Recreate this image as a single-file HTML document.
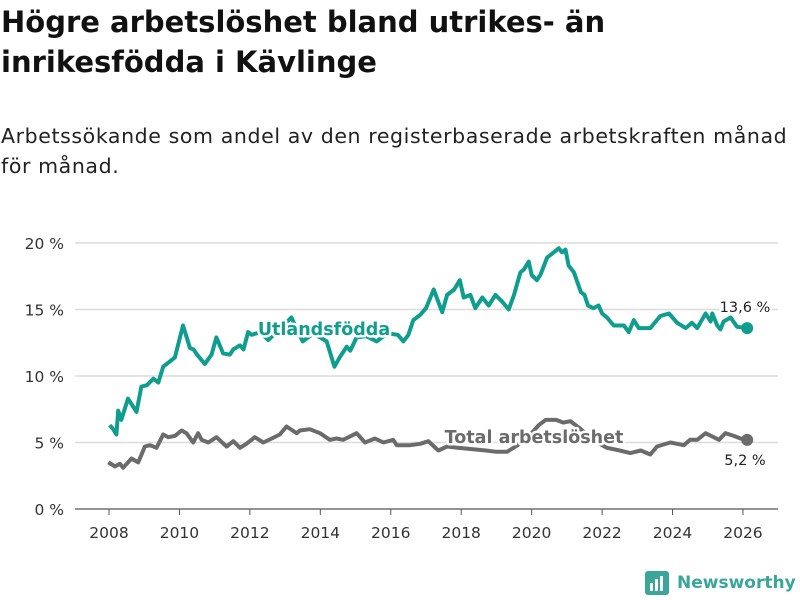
<!DOCTYPE html>
<html><head><meta charset="utf-8"><style>
body{margin:0;width:800px;height:600px;background:#fff;font-family:"DejaVu Sans",sans-serif;overflow:hidden;position:relative}
h1{position:absolute;left:1px;top:2px;margin:0;font-size:29px;line-height:40px;font-weight:bold;color:#111;width:795px}
.sub{position:absolute;left:1px;top:121px;margin:0;font-size:20.5px;letter-spacing:0.6px;line-height:30px;color:#222;width:795px}
svg{position:absolute;left:0;top:0}
</style></head><body>
<h1>Högre arbetslöshet bland utrikes- än<br>inrikesfödda i Kävlinge</h1>
<p class="sub">Arbetssökande som andel av den registerbaserade arbetskraften månad<br>för månad.</p>
<svg id="chart" width="800" height="600"></svg>
<script>
const yTicks=[0,5,10,15,20];
const yTickLabels=["0 %","5 %","10 %","15 %","20 %"];
const xTicks=[2008,2010,2012,2014,2016,2018,2020,2022,2024,2026];
const foreignTimes=[2008.02,2008.12,2008.21,2008.26,2008.35,2008.54,2008.78,2008.92,2009.07,2009.26,2009.4,2009.54,2009.73,2009.87,2010.1,2010.3,2010.4,2010.5,2010.72,2010.91,2011.05,2011.24,2011.43,2011.53,2011.72,2011.82,2011.95,2012.05,2012.3,2012.52,2012.8,2013.18,2013.5,2013.8,2014.18,2014.4,2014.55,2014.75,2014.85,2015.03,2015.3,2015.6,2015.9,2016.2,2016.36,2016.5,2016.64,2016.84,2017.0,2017.22,2017.46,2017.6,2017.8,2017.96,2018.07,2018.26,2018.4,2018.6,2018.78,2018.97,2019.16,2019.35,2019.5,2019.68,2019.78,2019.92,2020.0,2020.15,2020.25,2020.44,2020.63,2020.77,2020.86,2020.96,2021.05,2021.2,2021.4,2021.5,2021.6,2021.75,2021.9,2022.0,2022.14,2022.33,2022.62,2022.76,2022.9,2023.04,2023.37,2023.65,2023.9,2024.13,2024.37,2024.55,2024.7,2024.94,2025.08,2025.13,2025.27,2025.36,2025.45,2025.65,2025.83,2026.12];
const foreignValues=[6.3,6.0,5.6,7.4,6.7,8.3,7.3,9.2,9.3,9.8,9.5,10.7,11.1,11.4,13.8,12.1,12.0,11.6,10.9,11.6,12.9,11.7,11.6,12.0,12.3,12.0,13.3,13.1,13.3,12.7,13.4,14.4,12.6,13.2,12.6,10.7,11.4,12.2,11.9,12.9,13.0,12.6,13.2,13.1,12.6,13.1,14.2,14.6,15.1,16.5,14.8,16.1,16.5,17.2,15.9,16.1,15.1,15.9,15.3,16.1,15.6,15.0,16.1,17.8,18.0,18.6,17.6,17.2,17.6,18.9,19.3,19.6,19.3,19.5,18.3,17.8,16.3,16.1,15.3,15.1,15.3,14.7,14.4,13.8,13.8,13.3,14.2,13.6,13.6,14.5,14.7,14.0,13.6,14.0,13.6,14.7,14.1,14.7,13.8,13.5,14.1,14.4,13.7,13.6];
const totalTimes=[2007.98,2008.17,2008.31,2008.4,2008.64,2008.83,2009.02,2009.16,2009.35,2009.54,2009.68,2009.87,2010.06,2010.2,2010.39,2010.53,2010.63,2010.82,2011.05,2011.34,2011.53,2011.72,2011.9,2012.14,2012.38,2012.62,2012.85,2013.04,2013.33,2013.42,2013.7,2013.99,2014.27,2014.46,2014.65,2015.03,2015.27,2015.55,2015.79,2016.07,2016.17,2016.55,2016.84,2017.07,2017.35,2017.6,2017.9,2018.3,2018.7,2019.0,2019.3,2019.6,2019.9,2020.2,2020.4,2020.7,2020.9,2021.1,2021.4,2021.7,2022.0,2022.14,2022.5,2022.8,2023.1,2023.37,2023.56,2023.94,2024.32,2024.5,2024.7,2024.94,2025.17,2025.32,2025.5,2025.74,2025.93,2026.12];
const totalValues=[3.5,3.2,3.4,3.1,3.8,3.5,4.7,4.8,4.6,5.6,5.4,5.5,5.9,5.7,5.0,5.7,5.2,5.0,5.4,4.7,5.1,4.6,4.9,5.4,5.0,5.3,5.6,6.2,5.7,5.9,6.0,5.7,5.2,5.3,5.2,5.7,5.0,5.3,5.0,5.2,4.8,4.8,4.9,5.1,4.4,4.7,4.6,4.5,4.4,4.3,4.3,4.8,5.4,6.3,6.7,6.7,6.5,6.6,6.0,5.3,4.8,4.6,4.4,4.2,4.4,4.1,4.7,5.0,4.8,5.2,5.2,5.7,5.4,5.2,5.7,5.5,5.3,5.2];
const foreignLabel="13,6 %", totalLabel="5,2 %";

const NS="http://www.w3.org/2000/svg";
const svg=document.getElementById('chart');
const X=t=>109+(t-2008)*35.22;
const Y=v=>509-v*13.3;
function mk(tag,attrs,parent){const e=document.createElementNS(NS,tag);for(const k in attrs)e.setAttribute(k,attrs[k]);(parent||svg).appendChild(e);return e;}
yTicks.forEach((v,i)=>{
  const l=mk('line',{x1:75,x2:778,y1:Y(v),y2:Y(v),stroke:v===0?'#555':'#dcdcdc','stroke-width':v===0?1.2:1.5});
  
  
  const t=mk('text',{x:64,y:Y(v)+6,'text-anchor':'end','font-size':15.5,fill:'#333'});
  t.textContent=yTickLabels[i];
  
  
});
xTicks.forEach(yr=>{
  const l=mk('line',{x1:X(yr),x2:X(yr),y1:509,y2:515,stroke:'#555','stroke-width':1});
  
  
  const t=mk('text',{x:X(yr),y:538,'text-anchor':'middle','font-size':15.5,fill:'#333'});
  t.textContent=yr;
  
  
});
function series(times,vals,color,name){
  const d=times.map((t,i)=>(i?'L':'M')+X(t).toFixed(1)+' '+Y(vals[i]).toFixed(1)).join(' ');
  const p=mk('path',{d:d,fill:'none',stroke:color,'stroke-width':4,'stroke-linejoin':'round'});
  
  
  const n=times.length-1;
  const c=mk('circle',{cx:X(times[n]),cy:Y(vals[n]),r:6,fill:color});
  
  
}
series(totalTimes,totalValues,'#6b6b6b','total');
series(foreignTimes,foreignValues,'#0f9e8e','foreign');
function label(x,y,txt,color,size,weight,anchor,name){
  const t=mk('text',{x:x,y:y,'text-anchor':anchor,'font-size':size,'font-weight':weight,fill:color,stroke:'#fff','stroke-width':5,'paint-order':'stroke','stroke-linejoin':'round'});
  t.textContent=txt;
  
  
}
label(324,335,'Utlandsfödda','#0f9e8e',17.5,'bold','middle','foreign-series-label');
label(534,443,'Total arbetslöshet','#6b6b6b',17.5,'bold','middle','total-series-label');
const nF=foreignTimes.length-1, nT=totalTimes.length-1;
label(745,Y(foreignValues[nF])-16,foreignLabel,'#222',14.5,'normal','middle','foreign-value-label');
label(745,Y(totalValues[nT])+25,totalLabel,'#222',14.5,'normal','middle','total-value-label');
</script>
<div style="position:absolute;left:645px;top:570px;height:26px;display:flex;align-items:center">
  <svg width="24" height="24" style="position:static"><rect x="0" y="0" width="24" height="24" rx="3" fill="#3aa699"/><rect x="5" y="12" width="3" height="8" fill="#fff"/><rect x="10" y="8" width="3" height="12" fill="#fff"/><rect x="15" y="5" width="3" height="15" fill="#fff"/></svg>
  <span style="margin-left:8px;font-size:17px;font-weight:bold;color:#3aa699">Newsworthy</span>
</div>
</body></html>
